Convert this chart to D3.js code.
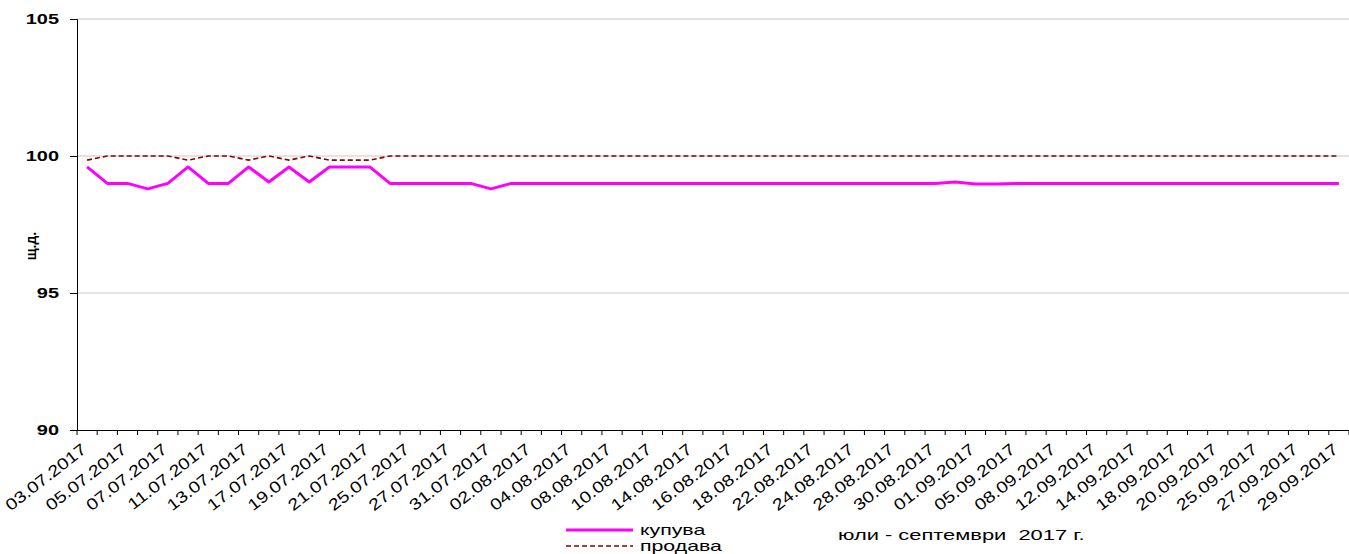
<!DOCTYPE html>
<html><head><meta charset="utf-8">
<script src="https://cdn.jsdelivr.net/npm/d3@7"></script>
<style>
body{margin:0;background:#fff;}
text{font-family:"Liberation Sans",Arial,sans-serif;}
</style></head>
<body><svg id="c" width="1349" height="554"></svg>
<script>
const dates = ["03.07.2017","04.07.2017","05.07.2017","06.07.2017","07.07.2017","10.07.2017","11.07.2017","12.07.2017","13.07.2017","14.07.2017",
"17.07.2017","18.07.2017","19.07.2017","20.07.2017","21.07.2017","24.07.2017","25.07.2017","26.07.2017","27.07.2017","28.07.2017",
"31.07.2017","01.08.2017","02.08.2017","03.08.2017","04.08.2017","07.08.2017","08.08.2017","09.08.2017","10.08.2017","11.08.2017",
"14.08.2017","15.08.2017","16.08.2017","17.08.2017","18.08.2017","21.08.2017","22.08.2017","23.08.2017","24.08.2017","25.08.2017",
"28.08.2017","29.08.2017","30.08.2017","31.08.2017","01.09.2017","04.09.2017","05.09.2017","07.09.2017","08.09.2017","11.09.2017",
"12.09.2017","13.09.2017","14.09.2017","15.09.2017","18.09.2017","19.09.2017","20.09.2017","22.09.2017","25.09.2017","26.09.2017",
"27.09.2017","28.09.2017","29.09.2017"];
const kupuva = [99.6,99.0,99.0,98.8,99.0,99.6,99.0,99.0,99.6,99.05,
99.6,99.05,99.6,99.6,99.6,99.0,99.0,99.0,99.0,99.0,
98.8,99.0,99.0,99.0,99.0,99.0,99.0,99.0,99.0,99.0,
99.0,99.0,99.0,99.0,99.0,99.0,99.0,99.0,99.0,99.0,
99.0,99.0,99.0,99.05,98.98,98.98,99.0,99.0,99.0,99.0,
99.0,99.0,99.0,99.0,99.0,99.0,99.0,99.0,99.0,99.0,
99.0,99.0,99.0];
const prodava = [99.85,100,100,100,100,99.85,100,100,99.85,100,
99.85,100,99.85,99.85,99.85,100,100,100,100,100,
100,100,100,100,100,100,100,100,100,100,
100,100,100,100,100,100,100,100,100,100,
100,100,100,100,100,100,100,100,100,100,
100,100,100,100,100,100,100,100,100,100,
100,100,100];
const yTicks = [90,95,100,105];
const seriesNames = ["купува","продава"];
const periodLabel = "юли - септември  2017 г.";
const yTitle = "щ.д.";

const svg = d3.select("#c");
const L=77, R=1349, T=19, B=430;
const SX=1.33;
const x = d3.scaleBand().domain(d3.range(dates.length)).range([L,R]);
const y = d3.scaleLinear().domain([90,105]).range([B,T]);

// gridlines
svg.append("g").selectAll("line").data(yTicks.filter(v=>v>90)).join("line")
  .attr("x1",L).attr("x2",R).attr("y1",d=>y(d)).attr("y2",d=>y(d))
  .attr("stroke","#c8c8c8").attr("stroke-width",1);

// y axis
const ya = svg.append("g").attr("transform",`translate(${L},0)`)
  .call(d3.axisLeft(y).tickValues(yTicks).tickSize(7).tickPadding(0).tickFormat(d3.format("d")));
ya.select(".domain").attr("stroke","#000");
ya.selectAll(".tick line").attr("stroke","#000");
ya.selectAll(".tick text").attr("x",null).attr("transform",`translate(-18,0) scale(${SX},1)`)
  .attr("font-size",15).attr("font-weight","bold").attr("fill","#000");

// x axis: ticks at category boundaries
const xa = svg.append("g");
xa.append("line").attr("x1",L).attr("x2",R).attr("y1",B+0.5).attr("y2",B+0.5).attr("stroke","#000");
const bounds = d3.range(dates.length+1).map(i=> i<dates.length ? x(i) : x(dates.length-1)+x.bandwidth());
xa.selectAll("line.t").data(bounds).join("line").attr("class","t")
  .attr("x1",d=>d).attr("x2",d=>d).attr("y1",B).attr("y2",B+5).attr("stroke","#000");
xa.selectAll("text").data(dates.map((d,i)=>({d,i})).filter(o=>o.i%2===0)).join("text")
  .attr("transform",o=>`translate(${x(o.i)+x.bandwidth()/2-3},${B+17}) rotate(-38) scale(1.22,1)`)
  .attr("text-anchor","end").attr("dy","0.35em").attr("font-size",16).attr("fill","#000")
  .text(o=>o.d);

// lines
const line = d3.line().x((d,i)=>x(i)+x.bandwidth()/2).y(d=>y(d));
svg.append("path").datum(prodava).attr("d",line).attr("fill","none")
  .attr("stroke","#8b0000").attr("stroke-width",1.6).attr("stroke-dasharray","5,3");
svg.append("path").datum(kupuva).attr("d",line).attr("fill","none")
  .attr("stroke","#ff00ff").attr("stroke-width",3).attr("stroke-linejoin","round");

// y title
svg.append("text").attr("transform","translate(36,246) rotate(-90)").attr("text-anchor","middle")
  .attr("font-size",14).attr("font-weight","bold").text(yTitle);

// legend
const LSX=1.42;
const lg = svg.append("g");
lg.append("line").attr("x1",566).attr("x2",633).attr("y1",530).attr("y2",530).attr("stroke","#ff00ff").attr("stroke-width",3);
lg.append("line").attr("x1",566).attr("x2",633).attr("y1",546).attr("y2",546).attr("stroke","#8b0000").attr("stroke-width",1.6).attr("stroke-dasharray","5,3");
lg.append("text").attr("transform",`translate(640,535) scale(${LSX},1)`).attr("font-size",15).text(seriesNames[0]);
lg.append("text").attr("transform",`translate(640,551) scale(${LSX},1)`).attr("font-size",15).text(seriesNames[1]);
svg.append("text").attr("transform",`translate(838,540) scale(1.46,1)`).attr("font-size",15)
  .attr("xml:space","preserve").style("white-space","pre").text(periodLabel);
</script></body></html>
